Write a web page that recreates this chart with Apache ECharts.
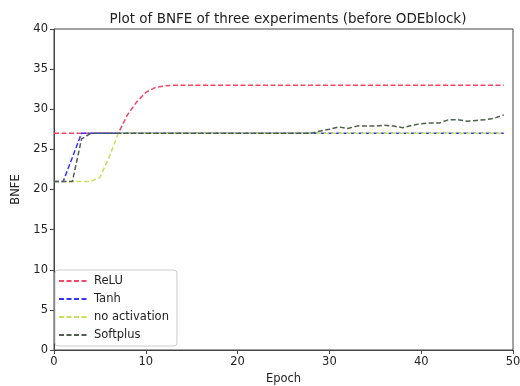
<!DOCTYPE html>
<html><head><meta charset="utf-8">
<script src="https://cdn.jsdelivr.net/npm/echarts@6/dist/echarts.min.js"></script>
<style>html,body{margin:0;padding:0;background:#fff}#c{width:520px;height:386px}</style>
</head><body><div id="c"></div>
<script>
const epochs = Array.from({length: 50}, (_, i) => i);
const seriesNames = ['ReLU', 'Tanh', 'no activation', 'Softplus'];
const relu = [27,27,27,27,27,27,27,27,29.3,30.9,32.1,32.7,32.9,33,33,33,33,33,33,33,33,33,33,33,33,33,33,33,33,33,33,33,33,33,33,33,33,33,33,33,33,33,33,33,33,33,33,33,33,33];
const tanh = [21,21,24,27,27,27,27,27,27,27,27,27,27,27,27,27,27,27,27,27,27,27,27,27,27,27,27,27,27,27,27,27,27,27,27,27,27,27,27,27,27,27,27,27,27,27,27,27,27,27];
const noAct = [21,21,21,21,21,21.5,24,27,27,27,27,27,27,27,27,27,27,27,27,27,27,27,27,27,27,27,27,27,27,27,27,27,27,27,27,27,27,27,27,27,27,27,27,27,27,27,27,27,27,27];
const softplus = [21,21,21,26.3,27,27,27,27,27,27,27,27,27,27,27,27,27,27,27,27,27,27,27,27,27,27,27,27,27,27.3,27.5,27.8,27.6,27.9,27.9,27.9,28.0,27.9,27.7,28.0,28.2,28.3,28.3,28.7,28.7,28.5,28.6,28.7,28.9,29.3];
const xTicks = [0,10,20,30,40,50];
const yTicks = [0,5,10,15,20,25,30,35,40];

const colors = ['#f2456a', '#3434ff', '#cadf5a', '#4f5f4f'];
const allData = [relu, tanh, noAct, softplus];
const font = 'DejaVu Sans';

const chart = echarts.init(document.getElementById('c'), null, {renderer: 'canvas'});
chart.setOption({
  animation: false,
  backgroundColor: '#fff',
  title: {text: 'Plot of BNFE of three experiments (before ODEblock)', left: 283, top: 7, textAlign: 'center',
    textStyle: {fontFamily: font, fontSize: 13.5, fontWeight: 'normal', color: '#222'}},
  grid: {left: 54, right: 7, top: 29, bottom: 36, outerBoundsMode: 'none', containLabel: false,
    show: true, borderColor: '#444', borderWidth: 1, backgroundColor: 'transparent'},
  xAxis: {type: 'value', min: 0, max: 50, interval: 10, name: 'Epoch', nameLocation: 'middle', nameGap: 22,
    nameTextStyle: {fontFamily: font, fontSize: 11.5, color: '#222'},
    axisLine: {show: true, onZero: false, lineStyle: {color: '#444', width: 1}},
    axisTick: {show: true, length: 4, lineStyle: {color: '#444'}},
    axisLabel: {fontFamily: font, fontSize: 11.5, color: '#222', margin: 6,
      formatter: v => xTicks.includes(v) ? String(v) : ''},
    splitLine: {show: false}},
  yAxis: {type: 'value', min: 0, max: 40, interval: 5, name: 'BNFE', nameLocation: 'middle', nameGap: 31,
    nameTextStyle: {fontFamily: font, fontSize: 11.5, color: '#222'},
    axisLine: {show: true, onZero: false, lineStyle: {color: '#444', width: 1}},
    axisTick: {show: true, length: 4, lineStyle: {color: '#444'}},
    axisLabel: {fontFamily: font, fontSize: 11.5, color: '#222', margin: 6,
      formatter: v => yTicks.includes(v) ? String(v) : ''},
    splitLine: {show: false}},
  legend: {orient: 'vertical', left: 55, top: 270, itemWidth: 30, itemHeight: 8, itemGap: 6,
    padding: [5, 8, 5, 3], backgroundColor: 'rgba(255,255,255,0.8)', borderColor: '#ccc', borderWidth: 1, borderRadius: 3,
    itemStyle: {opacity: 0},
    textStyle: {fontFamily: font, fontSize: 11.5, color: '#222'},
    data: seriesNames.map((n, i) => ({name: n}))},
  series: seriesNames.map((n, i) => ({
    name: n, type: 'line', showSymbol: false, symbol: 'none',
    data: epochs.map((e, j) => [e, allData[i][j]]),
    lineStyle: {color: colors[i], width: 1.5, type: [5, 2.5]},
    itemStyle: {color: colors[i]},
    z: 2 + i
  }))
});
</script></body></html>
